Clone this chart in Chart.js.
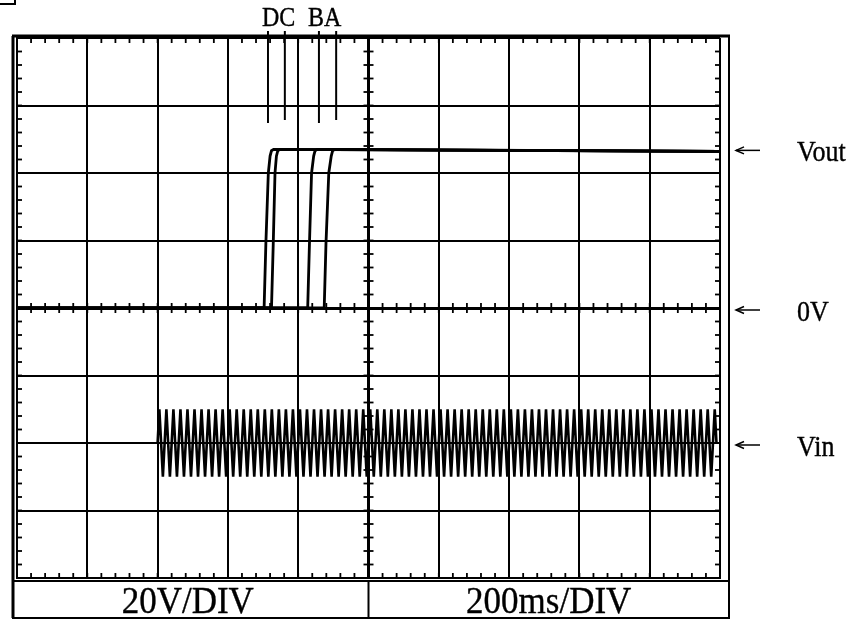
<!DOCTYPE html>
<html>
<head>
<meta charset="utf-8">
<script src="https://cdn.jsdelivr.net/npm/chart.js@4/dist/chart.umd.min.js"></script>
<style>
html,body{margin:0;padding:0;background:#fff;}
#wrap{width:858px;height:620px;position:relative;}
</style>
</head>
<body>
<div id="wrap"><canvas id="c" width="858" height="620"></canvas></div>
<script>
// ---- Data (time in ms, voltage in V) ----
const xTicks = [0,200,400,600,800,1000,1200,1400,1600,1800,2000];
const yTicks = [-80,-60,-40,-20,0,20,40,60,80];

const voutD_t = [0,703,708,715,720,724,730,2000];
const voutD_v = [0,0,19,40,45,46.6,47,46.4];
const voutC_t = [0,724,729,734,738,742,748,2000];
const voutC_v = [0,0,19,40,45,46.6,47,46.4];
const voutB_t = [0,827,832,838,844,848,854,2000];
const voutB_v = [0,0,19,40,45,46.6,47,46.4];
const voutA_t = [0,874,879,887,894,898,904,2000];
const voutA_v = [0,0,19,40,45,46.6,47,46.4];

const vinTimes = [400,
405,415,425,435,445,455,465,475,485,495,
505,515,525,535,545,555,565,575,585,595,
605,615,625,635,645,655,665,675,685,695,
705,715,725,735,745,755,765,775,785,795,
805,815,825,835,845,855,865,875,885,895,
905,915,925,935,945,955,965,975,985,995,
1005,1015,1025,1035,1045,1055,1065,1075,1085,1095,
1105,1115,1125,1135,1145,1155,1165,1175,1185,1195,
1205,1215,1225,1235,1245,1255,1265,1275,1285,1295,
1305,1315,1325,1335,1345,1355,1365,1375,1385,1395,
1405,1415,1425,1435,1445,1455,1465,1475,1485,1495,
1505,1515,1525,1535,1545,1555,1565,1575,1585,1595,
1605,1615,1625,1635,1645,1655,1665,1675,1685,1695,
1705,1715,1725,1735,1745,1755,1765,1775,1785,1795,
1805,1815,1825,1835,1845,1855,1865,1875,1885,1895,
1905,1915,1925,1935,1945,1955,1965,1975,1985,
1990];
const vinValues = [-40,
-30,-50,-30,-50,-30,-50,-30,-50,-30,-50,
-30,-50,-30,-50,-30,-50,-30,-50,-30,-50,
-30,-50,-30,-50,-30,-50,-30,-50,-30,-50,
-30,-50,-30,-50,-30,-50,-30,-50,-30,-50,
-30,-50,-30,-50,-30,-50,-30,-50,-30,-50,
-30,-50,-30,-50,-30,-50,-30,-50,-30,-50,
-30,-50,-30,-50,-30,-50,-30,-50,-30,-50,
-30,-50,-30,-50,-30,-50,-30,-50,-30,-50,
-30,-50,-30,-50,-30,-50,-30,-50,-30,-50,
-30,-50,-30,-50,-30,-50,-30,-50,-30,-50,
-30,-50,-30,-50,-30,-50,-30,-50,-30,-50,
-30,-50,-30,-50,-30,-50,-30,-50,-30,-50,
-30,-50,-30,-50,-30,-50,-30,-50,-30,-50,
-30,-50,-30,-50,-30,-50,-30,-50,-30,-50,
-30,-50,-30,-50,-30,-50,-30,-50,-30,-50,
-30,-50,-30,-50,-30,-50,-30,-50,-30,
-40];

const markerLabels = ['D','C','B','A'];
const markerTimes = [714,762,859,908];
const traceLabels = ['Vout','0V','Vin'];
const traceLevels = [47,0,-40];
const scaleLabels = ['20V/DIV','200ms/DIV'];

function pts(t,v){return t.map((x,i)=>({x:x,y:v[i]}));}

const FONT = '"Liberation Serif","Times New Roman",serif';

// text slightly stretched vertically, like the scanned print
function txt(ctx, s, x, y, size, sy, align){
  ctx.save();
  ctx.font = size+'px '+FONT;
  ctx.textAlign = align || 'left';
  ctx.textBaseline = 'alphabetic';
  ctx.translate(x, y);
  ctx.scale(1, sy);
  ctx.lineWidth = 0.35;
  ctx.fillText(s, 0, 0);
  ctx.strokeText(s, 0, 0);
  ctx.restore();
}

const deco = {
  id:'deco',
  afterDraw(chart){
    const ctx = chart.ctx, xs = chart.scales.x, ys = chart.scales.y, ca = chart.chartArea;
    ctx.save();
    ctx.strokeStyle='#000'; ctx.fillStyle='#000'; ctx.lineCap='butt';
    const y0 = ys.getPixelForValue(0), xc = xs.getPixelForValue(1000);
    // minor ticks
    ctx.lineWidth=1.8;
    for(let v=0; v<=2000; v+=40){
      const px = xs.getPixelForValue(v);
      ctx.beginPath(); ctx.moveTo(px,y0-5); ctx.lineTo(px,y0+5); ctx.stroke();
      ctx.beginPath(); ctx.moveTo(px,ca.top); ctx.lineTo(px,ca.top+5); ctx.stroke();
      ctx.beginPath(); ctx.moveTo(px,ca.bottom); ctx.lineTo(px,ca.bottom-5); ctx.stroke();
    }
    for(let v=-80; v<=80; v+=4){
      const py = ys.getPixelForValue(v);
      ctx.beginPath(); ctx.moveTo(xc-5,py); ctx.lineTo(xc+5,py); ctx.stroke();
      ctx.beginPath(); ctx.moveTo(ca.left,py); ctx.lineTo(ca.left+5,py); ctx.stroke();
      ctx.beginPath(); ctx.moveTo(ca.right,py); ctx.lineTo(ca.right-5,py); ctx.stroke();
    }
    // outer frame
    ctx.lineWidth=3;
    ctx.beginPath(); ctx.moveTo(12,36); ctx.lineTo(730,36); ctx.stroke();
    ctx.beginPath(); ctx.moveTo(13,36); ctx.lineTo(13,618); ctx.stroke();
    ctx.lineWidth=2;
    ctx.beginPath(); ctx.moveTo(729,36); ctx.lineTo(729,618); ctx.stroke();
    ctx.beginPath(); ctx.moveTo(12,618); ctx.lineTo(730,618); ctx.stroke();
    ctx.beginPath(); ctx.moveTo(12,581); ctx.lineTo(730,581); ctx.stroke();
    ctx.beginPath(); ctx.moveTo(xc,581); ctx.lineTo(xc,618); ctx.stroke();
    // corner mark
    ctx.beginPath(); ctx.moveTo(0,4); ctx.lineTo(15,4); ctx.lineTo(15,0); ctx.stroke();
    // markers
    ctx.lineWidth=2;
    markerTimes.forEach((t,i)=>{
      const px = xs.getPixelForValue(t);
      ctx.beginPath(); ctx.moveTo(px,31); ctx.lineTo(px,(i%2===0)?123:120); ctx.stroke();
    });
    txt(ctx, markerLabels[0]+markerLabels[1], 262, 26, 24, 1.12);
    txt(ctx, markerLabels[2]+markerLabels[3], 308, 26, 24, 1.12);
    // right labels and arrows
    traceLevels.forEach((v,i)=>{
      const py = ys.getPixelForValue(v) + (i===0?1:2);
      ctx.lineWidth=1.5;
      ctx.beginPath(); ctx.moveTo(736,py); ctx.lineTo(760,py); ctx.stroke();
      ctx.beginPath(); ctx.moveTo(744,py-3.5); ctx.lineTo(736,py); ctx.lineTo(744,py+3.5); ctx.stroke();
      txt(ctx, traceLabels[i], 797, py+11, 26, 1.15);
    });
    // bottom labels
    txt(ctx, scaleLabels[0], (13+xc)/2-3, 613, 35, 1.08, 'center');
    txt(ctx, scaleLabels[1], (xc+729)/2, 613, 35, 1.08, 'center');
    ctx.restore();
  }
};

const traceStyle = {borderColor:'#000', borderWidth:2.8, pointRadius:0, tension:0, fill:false};

new Chart(document.getElementById('c'), {
  type:'line',
  data:{
    datasets:[
      Object.assign({label:'D', data:pts(voutD_t,voutD_v)}, traceStyle),
      Object.assign({label:'C', data:pts(voutC_t,voutC_v)}, traceStyle),
      Object.assign({label:'B', data:pts(voutB_t,voutB_v)}, traceStyle),
      Object.assign({label:'A', data:pts(voutA_t,voutA_v)}, traceStyle),
      Object.assign({label:'Vin', data:pts(vinTimes,vinValues)}, traceStyle, {borderWidth:2.6})
    ]
  },
  options:{
    responsive:false, animation:false,
    layout:{padding:{left:17,top:38,right:138,bottom:42}},
    plugins:{legend:{display:false}, tooltip:{enabled:false}},
    scales:{
      x:{type:'linear', min:0, max:2000,
         afterBuildTicks:(s)=>{s.ticks = xTicks.map(v=>({value:v}));},
         ticks:{display:false},
         grid:{color:'#000', lineWidth:(c)=> (c.tick && c.tick.value===1000)?3:2, drawTicks:false},
         border:{display:true,color:'#000',width:2}},
      y:{type:'linear', min:-80, max:80,
         afterBuildTicks:(s)=>{s.ticks = yTicks.map(v=>({value:v}));},
         ticks:{display:false},
         grid:{color:'#000', lineWidth:(c)=> (c.tick && c.tick.value===0)?3:2, drawTicks:false},
         border:{display:true,color:'#000',width:2}}
    }
  },
  plugins:[deco]
});
</script>
</body>
</html>
